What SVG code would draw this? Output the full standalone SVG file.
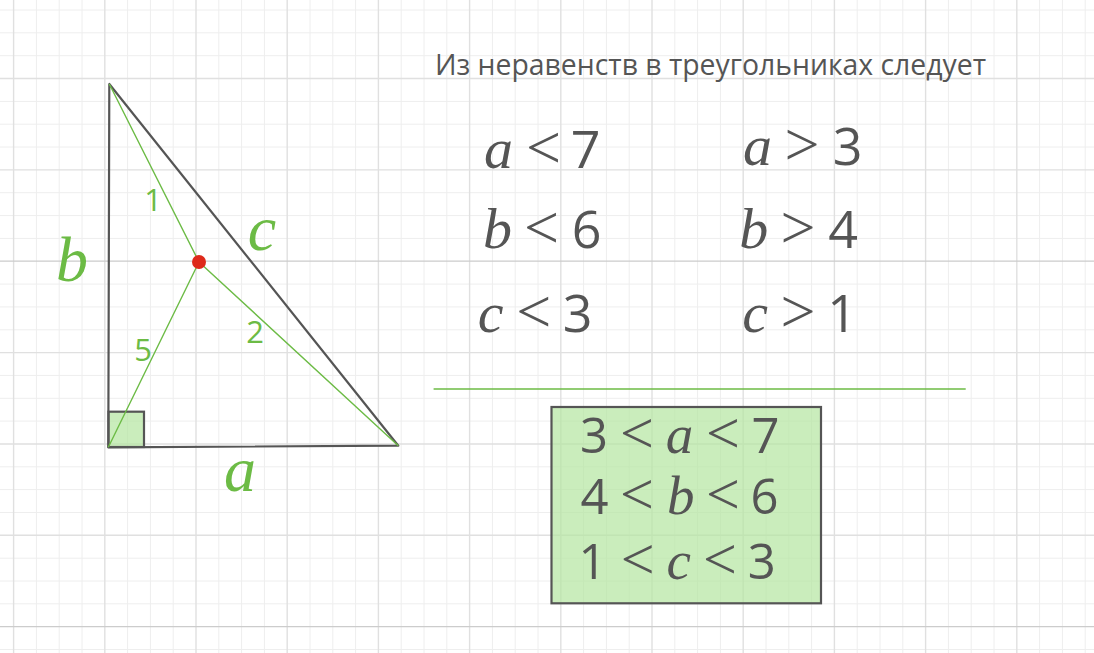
<svg xmlns="http://www.w3.org/2000/svg" width="1094" height="653" viewBox="0 0 1094 653">
<style>
.minor{stroke:#eeeeee;stroke-width:1;fill:none}
.major{stroke:#e0e0e0;stroke-width:1.4;fill:none}
.axis{stroke:#cccccc;stroke-width:1.2;fill:none}
.tri{stroke:#555555;stroke-width:2.2;fill:none;stroke-linejoin:round}
.cev{stroke:#6cbb45;stroke-width:1.4;fill:none}
.lbl{font-family:"Open Sans","Liberation Sans",sans-serif;font-size:31px;fill:#6cbb45;text-anchor:middle}
.var{font-family:"Liberation Serif",serif;font-style:italic;font-size:64px;fill:#6cbb45;text-anchor:middle}
.title{font-family:"Open Sans","Liberation Sans",sans-serif;font-size:28.3px;fill:#555555}
.d{font-family:"Open Sans","Liberation Sans",sans-serif;font-size:52px;fill:#555555;text-anchor:middle}
.v{font-family:"Liberation Serif",serif;font-style:italic;font-size:58px;fill:#555555;text-anchor:middle}
.o{font-family:"Liberation Serif",serif;font-size:62px;fill:#555555;text-anchor:middle}
.bd{font-family:"Open Sans","Liberation Sans",sans-serif;font-size:49px;fill:#555555;text-anchor:middle}
.bv{font-family:"Liberation Serif",serif;font-style:italic;font-size:55px;fill:#555555;text-anchor:middle}
.bo{font-family:"Liberation Serif",serif;font-size:60px;fill:#555555;text-anchor:middle}
</style>
<rect width="1094" height="653" fill="#ffffff"/>
<g id="grid">
<path class="minor" d="M36.4 0V653M59.2 0V653M82 0V653M127.6 0V653M150.4 0V653M173.2 0V653M218.8 0V653M241.6 0V653M264.4 0V653M310 0V653M332.8 0V653M355.6 0V653M401.2 0V653M424 0V653M446.8 0V653M492.4 0V653M515.2 0V653M538 0V653M583.6 0V653M606.4 0V653M629.2 0V653M674.8 0V653M697.6 0V653M720.4 0V653M766 0V653M788.8 0V653M811.6 0V653M857.2 0V653M880 0V653M902.8 0V653M948.4 0V653M971.2 0V653M994 0V653M1039.6 0V653M1062.4 0V653M1085.2 0V653"/>
<path class="minor" d="M0 10H1094M0 32.8H1094M0 55.7H1094M0 101.4H1094M0 124.2H1094M0 147H1094M0 192.7H1094M0 215.6H1094M0 238.4H1094M0 284.1H1094M0 306.9H1094M0 329.8H1094M0 375.4H1094M0 398.3H1094M0 421.1H1094M0 466.8H1094M0 489.6H1094M0 512.5H1094M0 558.2H1094M0 581H1094M0 603.8H1094M0 649.5H1094"/>
<path class="major" d="M13.6 0V653M104.8 0V653M196 0V653M287.2 0V653M378.4 0V653M469.6 0V653M560.8 0V653M652 0V653M743.2 0V653M834.4 0V653M925.6 0V653M1016.8 0V653"/>
<path class="major" d="M0 78.5H1094M0 169.9H1094M0 352.6H1094M0 444H1094M0 535.3H1094"/>
<path class="axis" d="M0 261.2H1094M0 626.7H1094"/>
</g>
<g id="triangle">
<rect x="108.5" y="411.7" width="35.5" height="35.3" fill="#b4e6a0" fill-opacity="0.7" stroke="#555555" stroke-width="2.2"/>
<path class="tri" d="M109.3 84 L108.3 447.3 L398.3 445.7 Z"/>
</g>
<g id="connectors">
<path class="cev" d="M109.3 84 L199 262 M199 262 L398.3 445.7 M199 262 L108.3 447.3"/>
</g>
<g id="point">
<circle cx="199" cy="262" r="7" fill="#de2a1a"/>
</g>
<g id="side-labels">
<text class="lbl" x="153" y="211">1</text>
<text class="lbl" x="143" y="361">5</text>
<text class="lbl" x="255" y="343">2</text>
<text class="var" x="72" y="281">b</text>
<text class="var" x="262" y="250">c</text>
<text class="var" x="240" y="491">a</text>
</g>
<g id="title">
<text class="title" x="435" y="75" textLength="551" lengthAdjust="spacingAndGlyphs">Из неравенств в треугольниках следует</text>
</g>
<g id="inequalities">
<text class="v" x="498.5" y="168">a</text><text class="o" x="543.5" y="168">&lt;</text><text class="d" x="585.5" y="168">7</text>
<text class="v" x="757.5" y="165">a</text><text class="o" x="802" y="165">&gt;</text><text class="d" x="847.5" y="165">3</text>
<text class="v" x="497.5" y="248">b</text><text class="o" x="541.4" y="248">&lt;</text><text class="d" x="586.5" y="248">6</text>
<text class="v" x="753.7" y="248">b</text><text class="o" x="798" y="248">&gt;</text><text class="d" x="843" y="248">4</text>
<text class="v" x="490.5" y="332">c</text><text class="o" x="533.8" y="332">&lt;</text><text class="d" x="577.5" y="332">3</text>
<text class="v" x="755" y="332">c</text><text class="o" x="798" y="332">&gt;</text><text class="d" x="842" y="332">1</text>
</g>
<g id="divider">
<path d="M433.6 389 H965.7" stroke="#6cbb45" stroke-width="1.4"/>
</g>
<g id="result-box">
<rect x="551.5" y="407" width="269.5" height="196.3" fill="#b4e6a0" fill-opacity="0.7" stroke="#555555" stroke-width="2.2"/>
<text class="bd" x="594" y="452.7">3</text><text class="bo" x="637" y="452.7">&lt;</text><text class="bv" x="679.5" y="452.7">a</text><text class="bo" x="723" y="452.7">&lt;</text><text class="bd" x="765.5" y="452.7">7</text>
<text class="bd" x="594.5" y="514">4</text><text class="bo" x="637" y="514">&lt;</text><text class="bv" x="680.7" y="514">b</text><text class="bo" x="723" y="514">&lt;</text><text class="bd" x="764.6" y="514">6</text>
<text class="bd" x="592.5" y="579.3">1</text><text class="bo" x="637.7" y="579.3">&lt;</text><text class="bv" x="678.6" y="579.3">c</text><text class="bo" x="719.8" y="579.3">&lt;</text><text class="bd" x="761.8" y="579.3">3</text>
</g>
</svg>
